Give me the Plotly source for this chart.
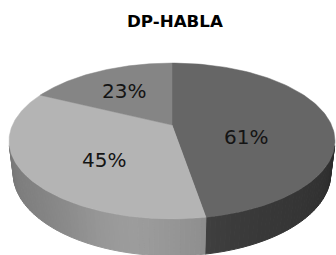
import numpy as np
import plotly.graph_objects as go

# ---- data ----
chart_title = "DP-HABLA"
slice_labels = ["61%", "45%", "23%"]
slice_values = [61, 45, 23]

# ---- style ----
top_gray = [102, 180, 133]          # grey level of each slice's top face
W, Hpx = 336, 255

# 3-D camera used to project the disc (elevation, distance, scale, origin, thickness)
ELEV = np.radians(27.9)
DIST = 4.308
SCALE = 159.5
OX, OY = 172.0, 125.0
THICK = 0.232
cE, sE = np.cos(ELEV), np.sin(ELEV)


def proj(X, Y, Z):
    X, Y, Z = np.asarray(X, float), np.asarray(Y, float), np.asarray(Z, float)
    yc = Y * cE + Z * sE
    zc = -Y * sE + Z * cE + DIST
    return OX + SCALE * DIST * X / zc, OY - SCALE * DIST * yc / zc


def shade(base, phi_deg):
    bump = np.exp(-((phi_deg - 192.0) / 20.0) ** 2)
    far = ((phi_deg - 180.0) / 75.0) ** 2
    v = base - 44 + 20 * bump - 16 * far
    v = int(np.clip(round(v), 0, 255))
    return f"rgb({v},{v},{v})"


def centroid(xs, ys):
    x0, y0 = xs, ys
    x1, y1 = np.roll(xs, -1), np.roll(ys, -1)
    cr = x0 * y1 - x1 * y0
    A = cr.sum() / 2
    return ((x0 + x1) * cr).sum() / (6 * A), ((y0 + y1) * cr).sum() / (6 * A)


total = sum(slice_values)
starts, ends = [], []
acc = 0.0
for v in slice_values:
    starts.append(acc / total * 360.0)
    acc += v
    ends.append(acc / total * 360.0)

# visible part of the outer wall: cos(phi) < -1/(D cos e)
lim = np.degrees(np.arccos(-1.0 / (DIST * cE)))
vis_lo, vis_hi = lim, 360.0 - lim

fig = go.Figure()

# side walls
for i, (a0, a1) in enumerate(zip(starts, ends)):
    lo, hi = max(a0, vis_lo), min(a1, vis_hi)
    if hi <= lo:
        continue
    n = max(2, int((hi - lo) / 1.5) + 1)
    edges = np.linspace(lo, hi, n)
    for p, q in zip(edges[:-1], edges[1:]):
        ph = np.radians(np.linspace(p, q, 4))
        X, Z = np.sin(ph), np.cos(ph)
        xt, yt = proj(X, np.zeros_like(X), Z)
        xb, yb = proj(X, -THICK * np.ones_like(X), Z)
        xs = np.concatenate([xt, xb[::-1], xt[:1]])
        ys = np.concatenate([yt, yb[::-1], yt[:1]])
        col = shade(top_gray[i], (p + q) / 2)
        fig.add_trace(go.Scatter(x=xs, y=ys, mode="lines", fill="toself",
                                 fillcolor=col, line=dict(color=col, width=1),
                                 hoverinfo="skip", showlegend=False))

# top faces
label_pos = []
for i, (a0, a1) in enumerate(zip(starts, ends)):
    ph = np.radians(np.linspace(a0, a1, 120))
    X, Z = np.sin(ph), np.cos(ph)
    xa, ya = proj(X, np.zeros_like(X), Z)
    vx, vy = proj(0, 0, 0)
    xs = np.concatenate([[float(vx)], xa, [float(vx)]])
    ys = np.concatenate([[float(vy)], ya, [float(vy)]])
    g = top_gray[i]
    col = f"rgb({g},{g},{g})"
    fig.add_trace(go.Scatter(x=xs, y=ys, mode="lines", fill="toself",
                             fillcolor=col, line=dict(color=col, width=0.5),
                             hoverinfo="skip", showlegend=False))
    label_pos.append(centroid(xs[:-1], ys[:-1]))

for (lx, ly), txt in zip(label_pos, slice_labels):
    fig.add_annotation(x=lx, y=ly, text=txt, showarrow=False,
                       font=dict(family="DejaVu Sans", size=20, color="#141414"))

fig.add_annotation(x=175, y=21, text=f"<b>{chart_title}</b>", showarrow=False,
                   font=dict(family="DejaVu Sans", size=16.7, color="#000000"))

fig.update_layout(
    width=W, height=Hpx, margin=dict(l=0, r=0, t=0, b=0),
    paper_bgcolor="white", plot_bgcolor="white",
    xaxis=dict(range=[0, W], visible=False, fixedrange=True),
    yaxis=dict(range=[Hpx, 0], visible=False, fixedrange=True),
)
fig.write_html("out.html", config={"displayModeBar": False},
               post_script="document.body.style.margin='0';")
